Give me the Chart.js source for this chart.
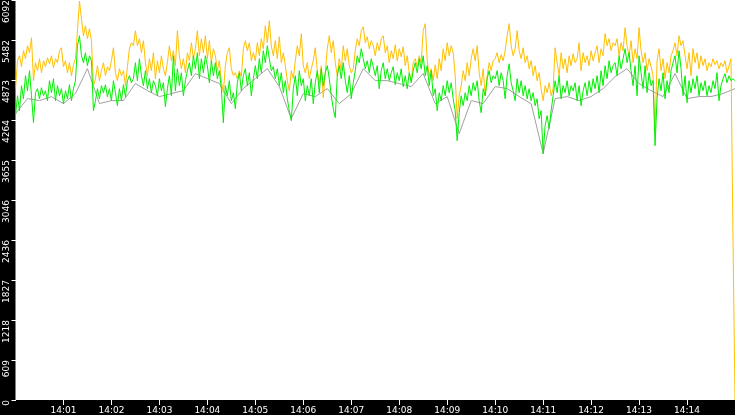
<!DOCTYPE html>
<html><head><meta charset="utf-8">
<script src="https://cdn.jsdelivr.net/npm/chart.js@4"></script>
<style>html,body{margin:0;padding:0;background:#000;overflow:hidden}canvas{display:block}</style>
</head><body>
<canvas id="c" width="735" height="415" style="width:735px;height:415px"></canvas>
<script>
const durationSeconds = 900;
const xTickSeconds = [60,120,180,240,300,360,420,480,540,600,660,720,780,840];
const xTickLabels = ['14:01','14:02','14:03','14:04','14:05','14:06','14:07','14:08','14:09','14:10','14:11','14:12','14:13','14:14'];
const yTickLabels = ['0','609','1218','1827','2436','3046','3655','4264','4873','5482','6092'];

const goldValues = [
4741,5167,5243,5076,5320,5198,5396,5289,5517,4863,
5137,5015,5198,4984,5167,5076,5213,5121,5243,5061,
5198,5137,5320,5365,5076,5167,4984,5137,4939,5106,
5198,5624,6075,5807,5548,5700,5502,5655,5472,4787,
4893,5091,4863,5015,5137,4939,5076,5015,5167,5365,
4984,4863,5045,4939,5015,4787,5076,5350,5441,5396,
5624,5396,5502,5289,5472,5137,4939,5198,5015,5289,
4893,5167,4984,5243,5045,4939,5137,5396,5167,5320,
5091,5624,5243,5045,5198,4984,5289,5167,5441,5198,
5350,5624,5243,5502,5289,5548,5198,5472,5137,5350,
5243,5015,5167,4863,4680,5091,5289,5365,5045,4939,
4984,4893,5015,4924,5350,5472,5320,5441,5167,5289,
5167,5441,5243,5502,5350,5700,5441,5776,5396,5243,
5472,5198,5533,5137,5289,5091,4863,4710,5015,4893,
5167,5396,5243,5578,5091,4984,5137,4893,5045,5167,
5365,5015,4832,5091,4604,4984,5350,5548,5289,5472,
5137,4939,5198,5015,5396,5167,5350,5091,4984,5045,
5320,5502,5396,5624,5685,5441,5533,5350,5472,5396,
5243,5441,5320,5502,5548,5289,5396,5137,5320,5198,
5411,5167,5350,5228,5380,5091,5243,4984,4863,5137,
5198,5076,5243,5137,5624,5731,5167,4939,5045,4863,
5106,4893,5198,5015,5350,5167,5441,5243,5396,5289,
4939,4284,4634,4787,5015,4863,5137,4939,5198,5350,
5167,5396,4984,4787,5045,4634,4939,5137,5015,5167,
5198,5289,5137,5259,5167,5320,5548,5731,5396,5243,
5350,5624,5320,5198,5365,5137,5243,5045,5167,4939,
5091,4863,4984,4741,4558,4787,4680,4832,4634,4741,
5365,5137,4939,5289,5045,5198,4984,5243,5091,5274,
5137,5198,5441,5015,5289,5137,5243,5091,5320,5167,
5289,5396,5137,5350,5243,5578,5396,5502,5320,5441,
5396,5502,5243,5441,5320,5670,5396,5243,5472,5137,
5350,5198,5670,5320,5137,5289,5015,5198,5076,4939,
4101,5167,5350,5015,5198,4893,5137,4984,5243,5320,
5441,5243,5548,5396,5472,5243,5045,5289,4939,5350,
5137,5289,5045,5243,5091,5198,5015,5137,5076,5198,
5106,5167,5045,5137,5076,5167,4984,5091,5198,2436,0
];

const greenValues = [
4330,4634,4406,4787,4588,4939,4710,5015,4634,4223,
4680,4741,4588,4756,4634,4710,4558,4863,4680,4893,
4558,4787,4634,4741,4512,4710,4588,4802,4558,4741,
4863,5396,5548,5243,5137,5289,5091,5243,5167,4406,
4558,4741,4588,4787,4680,4802,4619,4741,4558,4863,
4680,4482,4741,4558,4802,4619,4863,4939,4832,4893,
5137,4863,5198,4939,4787,5015,4741,4893,4680,4863,
4787,4634,4893,4710,4832,4467,4741,4939,4634,5243,
4710,5045,4787,4984,4634,4863,5015,5137,4939,5243,
5045,5289,4893,5198,4984,5243,5091,4832,5167,4939,
5137,4893,5015,4741,4223,4787,4634,4863,4558,4680,
4436,4832,4984,4710,4939,5045,4787,4984,4634,4893,
5091,4893,5198,4984,5320,5137,5396,5198,5015,5076,
4893,5045,4787,4984,4680,4863,4588,4406,4254,4741,
4939,4634,5015,4787,4893,4558,4787,4634,4893,4512,
4832,5015,4680,5045,4787,4984,5091,4893,4634,4436,
4299,4939,5091,4893,5137,4863,4680,4939,4588,4832,
5015,5243,5137,5350,5198,5045,5167,4984,5198,5076,
4939,5091,4741,5015,5137,4893,5045,4863,4984,5076,
4802,4984,4863,5045,4771,4939,4741,4984,4832,5015,
5137,4984,5198,5045,5243,4939,5091,4787,5015,4634,
4741,4406,4680,4558,4787,4634,4863,4680,4832,4588,
4406,3949,4375,4634,4482,4680,4558,4787,4634,4832,
4710,4863,4558,4375,4741,4634,4893,5015,4832,4939,
4893,5015,4787,4984,4863,4588,4939,5121,4832,4710,
4558,4893,4680,4863,4634,4787,4588,4741,4558,4680,
4482,4588,4284,4406,3751,4177,4330,4132,4406,4634,
4863,4680,4939,4588,4787,4680,4863,4634,4787,4710,
4832,4558,4787,4482,4710,4832,4634,4863,4680,4893,
4741,4939,4680,5015,4787,5091,4893,5167,4984,5091,
5137,4939,5243,5045,5198,5350,5137,5289,5015,4787,
5091,4634,5243,4984,4741,5091,4680,4984,4787,4863,
3873,4588,4893,4710,4984,4588,4863,4680,5015,5137,
5243,4984,5320,5045,4634,4939,4528,4863,4680,4893,
4741,4939,4634,4832,4710,4863,4634,4787,4680,4863,
4741,4984,4558,4787,4893,4969,4832,4939,4863,4893,4863
];

const grayValues = [
4362,4590,4560,4621,4514,4667,5047,4514,4560,4560,
4819,4712,4621,4667,4712,4971,4895,4819,4514,4743,
4895,5047,4773,4286,4667,4621,4743,4514,4667,5047,
4864,4864,4819,4773,4971,4514,4621,4057,4560,4514,
4773,4743,4621,4514,3753,4590,4621,4560,4621,4743,
4925,5047,4819,4712,4621,4971,4590,4621,4621,4667,4743
];

function toPoints(vals) {
  const step = durationSeconds / (vals.length - 1);
  return vals.map((v, i) => ({ x: i * step, y: v }));
}

const bgPlugin = {
  id: 'bg',
  beforeDraw(chart) {
    const { ctx, chartArea: a, width, height } = chart;
    ctx.save();
    ctx.fillStyle = '#000';
    ctx.fillRect(0, 0, width, height);
    ctx.fillStyle = '#fff';
    ctx.fillRect(a.left, a.top, a.right - a.left, a.bottom - a.top);
    ctx.restore();
  }
};

function zeroPad(s) { s.paddingTop = 0; s.paddingBottom = 0; s.paddingLeft = 0; s.paddingRight = 0; }

const tickFont = { family: 'DejaVu Sans', size: 9 };

new Chart(document.getElementById('c'), {
  type: 'line',
  data: {
    datasets: [
      { label: 'green', data: toPoints(greenValues), borderColor: '#00ee00', borderWidth: 1, pointRadius: 0, order: 0 },
      { label: 'gold', data: toPoints(goldValues), borderColor: '#ffbf00', borderWidth: 1, pointRadius: 0, order: 1 },
      { label: 'gray', data: toPoints(grayValues), borderColor: '#a0a0a0', borderWidth: 1, pointRadius: 0, order: 2 }
    ]
  },
  options: {
    responsive: false,
    animation: false,
    devicePixelRatio: 1,
    layout: { padding: 0 },
    elements: { line: { tension: 0 } },
    plugins: { legend: { display: false }, tooltip: { enabled: false } },
    scales: {
      x: {
        type: 'linear', min: 0, max: durationSeconds,
        afterBuildTicks(s) { s.ticks = xTickSeconds.map(v => ({ value: v })); },
        afterFit(s) { s.height = 15; zeroPad(s); },
        grid: { display: true, drawOnChartArea: false, drawTicks: true, tickLength: 5, color: '#ffffff' },
        border: { display: false },
        ticks: {
          color: '#ffffff', font: tickFont, padding: 0, minRotation: 0, maxRotation: 0, autoSkip: false,
          callback(v) { const i = xTickSeconds.indexOf(v); return i >= 0 ? xTickLabels[i] : ''; }
        }
      },
      y: {
        type: 'linear', min: 0, max: Number(yTickLabels[yTickLabels.length - 1]),
        afterBuildTicks(s) { s.ticks = yTickLabels.map(l => ({ value: Number(l) })); },
        afterFit(s) { s.width = 15.5; zeroPad(s); },
        grid: { display: true, drawOnChartArea: false, drawTicks: true, tickLength: 4, color: '#ffffff' },
        border: { display: false },
        ticks: {
          color: '#ffffff', font: tickFont, padding: 5, minRotation: 90, maxRotation: 90, autoSkip: false,
          callback(v) { const i = yTickLabels.indexOf(String(v)); return i >= 0 ? yTickLabels[i] : ''; }
        }
      }
    }
  },
  plugins: [bgPlugin]
});
</script>
</body></html>
